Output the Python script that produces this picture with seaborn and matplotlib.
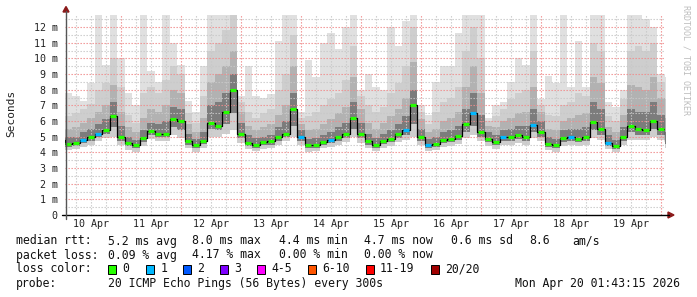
import numpy as np
import pandas as pd
import matplotlib
matplotlib.use("Agg")
import matplotlib.pyplot as plt
import matplotlib.dates as mdates
from matplotlib.patches import Polygon, Rectangle
from matplotlib.lines import Line2D
import seaborn as sns

# ---------------- data (3-hour steps from 10 Apr 00:00) ----------------
start_time = "2026-04-10 00:00"
step = "3h"
view_start = "2026-04-10 01:43:15"
view_end = "2026-04-20 01:43:15"

median_ms = [4.8, 4.55, 4.6, 4.8, 4.95, 5.2, 5.45, 6.3, 5.0, 4.6,
             4.45, 4.9, 5.35, 5.15, 5.15, 6.1, 6.0, 4.7, 4.45, 4.75,
             5.9, 5.7, 6.6, 8.0, 5.2, 4.6, 4.5, 4.65, 4.7, 5.0,
             5.2, 6.8, 5.0, 4.45, 4.5, 4.68, 4.8, 5.0, 5.15, 6.2,
             5.2, 4.7, 4.5, 4.75, 4.85, 5.15, 5.4, 7.0, 4.95, 4.5,
             4.55, 4.8, 4.85, 5.05, 5.8, 6.5, 5.3, 4.85, 4.65, 4.95,
             5.0, 5.1, 5.0, 5.75, 5.3, 4.55, 4.45, 4.9, 4.95, 4.85,
             4.95, 5.95, 5.5, 4.6, 4.4, 5.0, 5.7, 5.5, 5.4, 6.0,
             5.5, 4.75]
low_ms = [4.35, 4.15, 4.2, 4.35, 4.5, 4.7, 4.9, 5.0, 4.5, 4.15,
          4.05, 4.4, 4.85, 4.7, 4.7, 5.1, 4.9, 4.25, 4.05, 4.3,
          5.0, 5.0, 5.2, 5.4, 4.6, 4.2, 4.1, 4.2, 4.25, 4.5,
          4.7, 5.0, 4.45, 4.05, 4.1, 4.25, 4.35, 4.5, 4.65, 5.0,
          4.6, 4.25, 4.1, 4.3, 4.4, 4.65, 4.8, 5.0, 4.45, 4.1,
          4.15, 4.35, 4.4, 4.55, 4.9, 5.1, 4.7, 4.4, 4.2, 4.45,
          4.5, 4.6, 4.5, 4.9, 4.7, 4.15, 4.05, 4.4, 4.45, 4.4,
          4.45, 4.9, 4.8, 4.2, 4.0, 4.45, 4.8, 4.8, 4.8, 5.0,
          4.8, 4.3]
low_mid_ms = [4.6, 4.35, 4.4, 4.6, 4.75, 4.95, 5.2, 5.6, 4.75, 4.4,
              4.25, 4.65, 5.1, 4.95, 4.95, 5.6, 5.4, 4.5, 4.25, 4.55,
              5.5, 5.4, 5.8, 6.5, 4.9, 4.4, 4.3, 4.45, 4.5, 4.75,
              4.95, 5.7, 4.7, 4.25, 4.3, 4.45, 4.6, 4.75, 4.9, 5.5,
              4.9, 4.5, 4.3, 4.55, 4.65, 4.9, 5.1, 5.8, 4.7, 4.3,
              4.35, 4.6, 4.65, 4.8, 5.3, 5.7, 5.0, 4.65, 4.45, 4.7,
              4.75, 4.85, 4.75, 5.3, 5.0, 4.35, 4.25, 4.65, 4.7, 4.65,
              4.7, 5.4, 5.1, 4.4, 4.2, 4.75, 5.3, 5.1, 5.1, 5.5,
              5.1, 4.55]
up1_ms = [5.3, 4.95, 5.0, 5.3, 5.5, 5.8, 6.1, 7.2, 5.7, 5.0,
          4.8, 5.4, 5.9, 5.8, 6.0, 6.9, 6.8, 5.2, 4.85, 5.3,
          7.0, 7.2, 7.8, 9.0, 5.9, 5.1, 4.9, 5.0, 5.1, 5.6,
          6.0, 7.8, 5.4, 4.85, 4.9, 5.1, 5.3, 5.6, 5.9, 7.2,
          5.9, 5.2, 4.9, 5.2, 5.4, 5.8, 6.3, 8.0, 5.5, 4.85,
          4.95, 5.3, 5.4, 5.7, 6.8, 7.8, 6.4, 5.3, 5.1, 5.4,
          5.5, 5.7, 5.7, 6.8, 6.0, 4.95, 4.85, 5.4, 5.5, 5.5,
          5.6, 7.2, 6.8, 5.1, 4.8, 5.6, 6.8, 6.6, 6.6, 7.2,
          6.4, 5.3]
up2_ms = [6.0, 5.5, 5.6, 5.9, 6.2, 6.6, 7.0, 8.3, 6.6, 5.6,
          5.3, 6.2, 6.8, 6.6, 7.0, 8.0, 7.8, 5.8, 5.3, 6.2,
          8.5, 9.0, 9.5, 10.5, 6.6, 5.7, 5.4, 5.6, 5.8, 6.4,
          7.0, 9.5, 5.8, 5.4, 5.5, 5.8, 6.1, 6.5, 6.9, 8.8,
          6.8, 5.9, 5.5, 5.9, 6.3, 6.8, 7.5, 9.8, 6.1, 5.3,
          5.5, 6.0, 6.2, 6.6, 8.2, 9.5, 7.8, 5.7, 5.6, 6.0,
          6.2, 6.5, 6.6, 8.2, 6.6, 5.5, 5.4, 6.0, 6.2, 6.4,
          6.5, 8.8, 8.4, 5.6, 5.3, 6.4, 8.3, 8.2, 8.0, 8.8,
          7.5, 6.2]
up3_ms = [6.6, 6.3, 6.5, 6.8, 7.1, 8.0, 8.4, 10.0, 8.2, 6.4,
          5.9, 7.8, 8.2, 7.8, 8.6, 9.5, 9.0, 6.5, 5.9, 7.6,
          10.5, 11.0, 11.8, 12.8, 7.2, 6.6, 6.2, 6.5, 6.8, 8.0,
          9.0, 11.5, 6.2, 6.3, 6.6, 7.0, 7.4, 7.8, 8.6, 10.8,
          7.6, 7.0, 6.6, 6.9, 7.8, 8.4, 9.5, 12.0, 6.6, 5.8,
          6.6, 7.2, 7.5, 8.2, 10.5, 12.0, 10.0, 6.0, 6.3, 6.8,
          7.4, 7.8, 8.0, 10.5, 7.0, 6.4, 6.3, 7.0, 7.2, 7.8,
          7.6, 11.0, 10.5, 6.3, 6.0, 7.4, 10.5, 10.8, 10.5, 11.0,
          8.5, 7.4]
top_ms = [7.8, 7.8, 7.6, 7.3, 8.4, 13.0, 9.6, 13.0, 10.0, 7.8,
          7.0, 13.0, 9.2, 8.5, 13.0, 11.0, 9.6, 7.3, 6.6, 9.5,
          13.0, 13.0, 13.0, 13.0, 7.6, 9.5, 7.6, 7.5, 7.7, 11.1,
          13.0, 13.0, 6.6, 9.9, 8.8, 11.0, 11.6, 10.6, 12.0, 13.0,
          8.0, 9.0, 8.2, 8.0, 12.0, 10.8, 12.4, 13.0, 7.0, 6.4,
          8.5, 9.5, 9.5, 11.6, 13.0, 13.0, 13.0, 6.2, 7.0, 7.2,
          8.5, 10.0, 9.6, 13.0, 7.4, 8.9, 8.4, 13.0, 8.2, 11.1,
          8.2, 13.0, 13.0, 7.2, 6.9, 8.0, 13.0, 13.0, 12.5, 12.0,
          9.0, 8.8]
loss_count = [0, 0, 0, 1, 0, 1, 0, 0, 0, 0,
              0, 0, 0, 0, 0, 0, 0, 0, 0, 0,
              0, 0, 0, 0, 0, 0, 0, 0, 0, 0,
              0, 0, 1, 0, 0, 0, 1, 0, 0, 0,
              0, 0, 0, 0, 0, 0, 1, 0, 0, 1,
              0, 0, 0, 0, 0, 1, 0, 0, 0, 1,
              0, 0, 0, 1, 0, 0, 0, 0, 1, 0,
              0, 0, 0, 1, 0, 0, 0, 0, 0, 0,
              0, 0]

day_labels = ["10 Apr", "11 Apr", "12 Apr", "13 Apr", "14 Apr",
              "15 Apr", "16 Apr", "17 Apr", "18 Apr", "19 Apr"]
y_ticks = [0, 1, 2, 3, 4, 5, 6, 7, 8, 9, 10, 11, 12]
y_tick_labels = ["0", "1 m", "2 m", "3 m", "4 m", "5 m", "6 m", "7 m",
                 "8 m", "9 m", "10 m", "11 m", "12 m"]
loss_labels = ["0", "1", "2", "3", "4-5", "6-10", "11-19", "20/20"]
loss_colors = ["#26ff00", "#00b8ff", "#0059ff", "#7e00ff",
               "#ff00ff", "#ff5500", "#ff0000", "#a00000"]

stats_row1 = ["median rtt:", "5.2 ms avg", "8.0 ms max", "4.4 ms min",
              "4.7 ms now", "0.6 ms sd", "8.6", "am/s"]
stats_row2 = ["packet loss:", "0.09 % avg", "4.17 % max", "0.00 % min", "0.00 % now"]
probe_text = "20 ICMP Echo Pings (56 Bytes) every 300s"
stamp_text = "Mon Apr 20 01:43:15 2026"

# ---------------- figure ----------------
sns.set_style("white")
plt.rcParams["font.family"] = ["DejaVu Sans Mono", "DejaVu Sans"]

W, H = 697, 297
fig = plt.figure(figsize=(W / 100, H / 100), dpi=100)
fig.patch.set_facecolor("white")

def fx(px):
    return px / W

def fy(py):
    return 1 - py / H

ax = fig.add_axes([fx(65.3), fy(215), 600 / W, 200 / H])
ax.set_facecolor("white")

times = pd.date_range(start_time, periods=len(median_ms), freq=step)
x = mdates.date2num(times.to_pydatetime())
df = pd.DataFrame({"t": x, "median": median_ms})

# smoke layers (lightest outside, darker toward the median)
ax.fill_between(x, low_ms, top_ms, step="mid", color="#e0e0e0", lw=0, zorder=1)
ax.fill_between(x, low_ms, up3_ms, step="mid", color="#cecece", lw=0, zorder=1.1)
ax.fill_between(x, low_mid_ms, up2_ms, step="mid", color="#b2b2b2", lw=0, zorder=1.2)
ax.fill_between(x, low_mid_ms, up1_ms, step="mid", color="#7c7c7c", lw=0, zorder=1.3)

# grid (drawn over the smoke, like rrdtool)
x0 = mdates.date2num(pd.Timestamp(view_start).to_pydatetime())
x1 = mdates.date2num(pd.Timestamp(view_end).to_pydatetime())
grid_times = pd.date_range("2026-04-10 00:00", "2026-04-20 00:00", freq="6h")
for t in grid_times:
    xv = mdates.date2num(t.to_pydatetime())
    if xv < x0 or xv > x1:
        continue
    if t.hour == 0:
        ax.axvline(xv, color="#f08c8c", lw=0.8, ls=(0, (1.2, 1.5)), zorder=3)
    else:
        ax.axvline(xv, color="#c8c8c8", lw=0.8, ls=(0, (1.2, 1.5)), zorder=3)
for v in np.arange(0.5, 12.6, 0.5):
    if float(v).is_integer():
        ax.axhline(v, color="#f08c8c", lw=0.8, ls=(0, (1.2, 1.5)), zorder=3)
    else:
        ax.axhline(v, color="#c8c8c8", lw=0.8, ls=(0, (1.2, 1.5)), zorder=3)

# median line + loss colour marks
sns.lineplot(data=df, x="t", y="median", ax=ax, color="black", lw=0.9,
             drawstyle="steps-mid", zorder=5, legend=False)
half = 1.2 / 24.0
for xi, m, lc in zip(x, median_ms, loss_count):
    ax.hlines(m, xi - half, xi + half, color=loss_colors[lc], lw=2.3, zorder=6)

ax.set_xlim(x0, x1)
ax.set_ylim(0, 12.77)
for s in ax.spines.values():
    s.set_visible(False)

ax.set_yticks(y_ticks)
ax.set_yticklabels(y_tick_labels)
noon = pd.date_range("2026-04-10 12:00", periods=len(day_labels), freq="24h")
ax.set_xticks(mdates.date2num(noon.to_pydatetime()))
ax.set_xticklabels(day_labels)
ax.tick_params(axis="both", length=0, labelsize=7.2, colors="#222222")
ax.tick_params(axis="y", pad=5.5)
ax.tick_params(axis="x", pad=3)
ax.set_xlabel("")
ax.set_ylabel("")

# axes lines with arrows
fig.add_artist(Line2D([fx(62), fx(669)], [fy(215), fy(215)], color="black", lw=1.0))
fig.add_artist(Line2D([fx(66), fx(66)], [fy(219), fy(11)], color="#555555", lw=1.0))
fig.add_artist(Polygon([[fx(668), fy(212)], [fx(674), fy(215)], [fx(668), fy(218)]],
                       closed=True, color="#8b1a1a", transform=fig.transFigure))
fig.add_artist(Polygon([[fx(63), fy(12)], [fx(66), fy(6.5)], [fx(69), fy(12)]],
                       closed=True, color="#8b1a1a", transform=fig.transFigure))

# y label and watermark
fig.text(fx(11), fy(113), "Seconds", rotation=90, ha="center", va="center",
         fontsize=8, color="#222222")
fig.text(fx(686), fy(60), "RRDTOOL / TOBI OETIKER", rotation=270, ha="center",
         va="center", fontsize=6, color="#bdbdbd")

# legend / statistics block
fs = 8.3
tc = "#111111"
row1_x = [16, 107.6, 192.4, 279, 364.4, 451, 529, 572]
for s, px in zip(stats_row1, row1_x):
    fig.text(fx(px), fy(241), s, fontsize=fs, va="center", ha="left", color=tc)
row2_x = [16, 107.6, 192.4, 279, 364.4]
for s, px in zip(stats_row2, row2_x):
    fig.text(fx(px), fy(255), s, fontsize=fs, va="center", ha="left", color=tc)

fig.text(fx(16), fy(269), "loss color:", fontsize=fs, va="center", ha="left", color=tc)
box_x = [108, 146, 182.5, 220, 257, 308, 365.5, 431]
for lab, col, bx in zip(loss_labels, loss_colors, box_x):
    fig.add_artist(Rectangle((fx(bx), fy(273.5)), 8 / W, 9 / H, facecolor=col,
                             edgecolor="black", lw=0.7, transform=fig.transFigure))
    fig.text(fx(bx + 14.5), fy(269), lab, fontsize=fs, va="center", ha="left", color=tc)

fig.text(fx(16), fy(284), "probe:", fontsize=fs, va="center", ha="left", color=tc)
fig.text(fx(107.6), fy(284), probe_text, fontsize=fs, va="center", ha="left", color=tc)
fig.text(fx(680), fy(284), stamp_text, fontsize=fs, va="center", ha="right", color=tc)

fig.savefig("out.png", dpi=100, facecolor="white")
